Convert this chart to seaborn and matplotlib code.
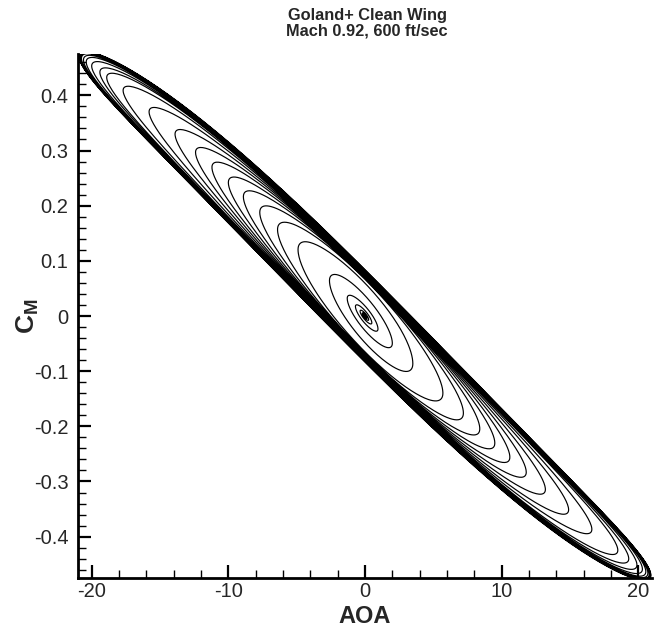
import numpy as np
import pandas as pd
import matplotlib
matplotlib.use("Agg")
import matplotlib.pyplot as plt
import seaborn as sns
from matplotlib.ticker import MultipleLocator, FuncFormatter

# tip AOA of each half cycle (alternating right / left end)
peak_aoa = [0.04, 0.06, 0.08, 0.11, 0.15, 0.2, 0.27, 0.36, 0.5, 0.7,
            0.95, 1.3, 2.0, 2.6, 3.5, 4.9, 5.7, 6.4, 7.2, 7.7,
            8.4, 8.9, 9.5, 10.0, 10.6, 11.2, 11.8, 12.4, 13.2, 13.9,
            14.9, 15.8, 16.6, 17.7, 18.5, 18.9, 19.3, 19.4, 19.9, 20.0,
            20.3, 20.4, 20.55, 20.6, 20.7, 20.75, 20.8, 20.82, 20.85, 20.87,
            20.88, 20.9, 20.9, 20.92, 20.92, 20.93]
# half-width of the loop in C_M at AOA = 0, per half cycle
half_width = [0.0007, 0.001, 0.0013, 0.0018, 0.0025, 0.0033, 0.0045, 0.006, 0.008, 0.0115,
              0.0155, 0.021, 0.032, 0.042, 0.055, 0.064, 0.066, 0.067, 0.068, 0.068,
              0.069, 0.069, 0.07, 0.07, 0.071, 0.071, 0.072, 0.072, 0.073, 0.073,
              0.074, 0.074, 0.075, 0.075, 0.076, 0.076, 0.077, 0.077, 0.078, 0.078,
              0.079, 0.079, 0.08, 0.08, 0.08, 0.081, 0.081, 0.081, 0.082, 0.082,
              0.082, 0.083, 0.083, 0.083, 0.084, 0.084]
# backbone C_M = -slope*AOA + cubic*AOA^3
cm_slope = 0.0247
cm_cubic = 5.1e-6

x_ticks = [-20, -10, 0, 10, 20]
y_ticks = [-0.4, -0.3, -0.2, -0.1, 0, 0.1, 0.2, 0.3, 0.4]

# build the spiral trajectory half cycle by half cycle
rows = []
npts = 120
for j in range(len(peak_aoa) - 1):
    s = np.linspace(0, 1, npts, endpoint=False)
    t = (j + s) * np.pi
    blend = (1 - np.cos(s * np.pi)) / 2
    amp = peak_aoa[j] + (peak_aoa[j + 1] - peak_aoa[j]) * blend
    wid = half_width[j] + (half_width[j + 1] - half_width[j]) * blend
    aoa = amp * np.cos(t)
    cm = -cm_slope * aoa + cm_cubic * aoa ** 3 + wid * np.sin(t)
    rows.append(pd.DataFrame({"AOA": aoa, "CM": cm}))
df = pd.concat(rows, ignore_index=True)

sns.set_theme(style="ticks")
plt.rcParams["font.family"] = ["Liberation Sans", "DejaVu Sans"]
plt.rcParams["axes.unicode_minus"] = False
plt.rcParams["mathtext.fontset"] = "custom"
plt.rcParams["mathtext.bf"] = "Liberation Sans:bold"
plt.rcParams["mathtext.rm"] = "Liberation Sans:bold"

fig = plt.figure(figsize=(6.54, 6.30), dpi=100)
ax = fig.add_axes([0.1193, 0.0825, 0.8776, 0.8318])

sns.lineplot(data=df, x="AOA", y="CM", sort=False, estimator=None,
             color="black", linewidth=0.85, ax=ax)

ax.set_xlim(-21, 21)
ax.set_ylim(-0.475, 0.475)
ax.set_xticks(x_ticks)
ax.set_yticks(y_ticks)
ax.xaxis.set_minor_locator(MultipleLocator(2))
ax.yaxis.set_minor_locator(MultipleLocator(0.02))
ax.yaxis.set_major_formatter(FuncFormatter(lambda v, p: f"{v:g}"))
ax.xaxis.set_major_formatter(FuncFormatter(lambda v, p: f"{v:g}"))

for side in ["top", "right"]:
    ax.spines[side].set_visible(False)
for side in ["left", "bottom"]:
    ax.spines[side].set_linewidth(2.0)
    ax.spines[side].set_color("black")

ax.tick_params(which="major", direction="in", length=9.5, width=1.6,
               labelsize=14.5, color="black", top=False, right=False)
ax.tick_params(axis="y", which="major", pad=7)
ax.tick_params(axis="x", which="major", pad=3)
ax.tick_params(which="minor", direction="in", length=5.5, width=1.0,
               color="black", top=False, right=False)

ax.set_xlabel("AOA", fontsize=17, fontweight="bold")
ax.xaxis.set_label_coords(0.5, -0.0515)
ax.xaxis.label.set_verticalalignment("top")
ax.set_ylabel(r"$\mathbf{C}_{\mathbf{M}}$", fontsize=19)
ax.yaxis.set_label_coords(-0.064, 0.5)

fig.text(367 / 654, 1 - 8 / 630, "Goland+ Clean Wing\nMach 0.92, 600 ft/sec",
         ha="center", va="top", fontsize=11.8, fontweight="bold", linespacing=1.0)

fig.savefig("out.png", dpi=100)
